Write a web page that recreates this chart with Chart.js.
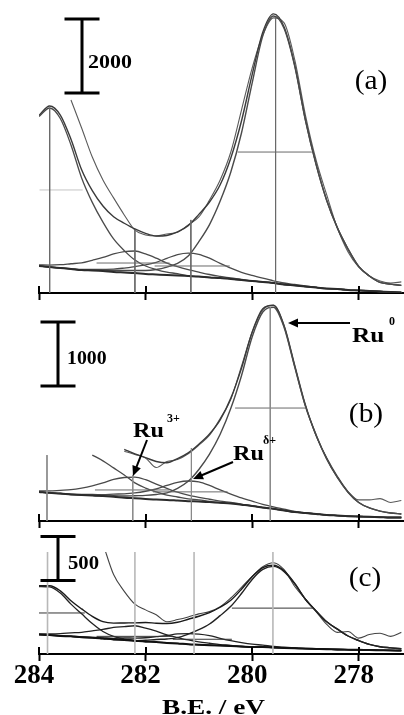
<!DOCTYPE html>
<html><head><meta charset="utf-8">
<script src="https://cdn.jsdelivr.net/npm/chart.js@4/dist/chart.umd.min.js"></script>
<style>
html,body{margin:0;padding:0;background:#fff;}
body{width:404px;height:715px;position:relative;overflow:hidden;}
canvas{position:absolute;left:0;}
</style></head><body>
<canvas id="ca" width="404" height="300" style="top:0px"></canvas>
<canvas id="cb" width="404" height="228" style="top:300px"></canvas>
<canvas id="cc" width="404" height="187" style="top:528px"></canvas>
<script>
// ---- shared axis values ----
const E = [284.0,283.8,283.6,283.4,283.2,283.0,282.8,282.6,282.4,282.2,282.0,281.8,281.6,281.4,281.2,281.0,280.8,280.6,280.4,280.2,280.0,279.8,279.6,279.4,279.2,279.0,278.8,278.6,278.4,278.2,278.0,277.8,277.6,277.4,277.2];
const X_TICKS = [284,282,280,278];
const SCALE_BARS = [2000,1000,500];
const PANEL_LABELS = ['(a)','(b)','(c)'];

// ---- panel (a) ----
const bgA   = [730,700,675,650,620,610,595,570,555,540,515,500,485,475,460,445,420,405,380,350,325,300,270,230,205,175,150,120,110,80,70,55,40,25,15];
const ru3dA = [4770,5000,4715,4000,3110,2450,1915,1460,1145,890,730,635,565,520,460,445,420,405,380,350,325,300,270,230,205,175,150,120,110,80,70,55,40,25,15];
const ru3pA = [760,755,765,790,815,885,960,1055,1120,1135,1055,940,810,715,635,565,500,450,405,370,325,300,270,230,205,175,150,120,110,80,70,55,40,25,15];
const rudA  = [730,700,680,660,635,635,640,645,675,715,760,830,935,1040,1080,1045,940,800,670,560,475,400,330,270,230,190,150,120,110,80,70,55,40,25,15];
const ru0A  = [730,700,675,650,625,625,620,610,610,610,610,635,700,800,1000,1390,1850,2485,3270,4325,5675,6950,7485,7150,6125,4665,3475,2500,1760,1190,720,460,285,240,205];
const envA  = [4800,5055,4810,4155,3330,2765,2350,2060,1885,1730,1610,1540,1555,1650,1820,2125,2460,2925,3650,4650,5900,7050,7545,7190,6150,4680,3475,2500,1760,1190,720,460,285,240,205];
const dataA = [null,null,null,5215,4460,3675,3055,2570,2110,1700,1570,1540,1595,1640,1840,2055,2515,3055,3810,4945,6080,6975,7435,7300,6300,4810,3595,2650,1755,1110,700,460,325,270,300];
const dropPosA = [283.8,282.2,281.15,279.56];
const dropTopA = [5000,1700,1975,7460];
const fwhmLoA = [283.99,282.92,281.83,280.27];
const fwhmHiA = [283.18,281.55,280.42,278.88];
const fwhmYA  = [2785,810,730,3810];

// ---- panel (b) ----
const bgB   = [455,440,430,415,405,400,390,380,365,355,345,335,330,320,310,305,295,285,275,255,235,210,190,165,140,125,110,95,85,75,70,65,60,55,55];
const ru3dB = [null,null,null,null,null,1030,940,830,720,595,515,455,405,375,345,330,305,285,275,255,235,210,190,165,140,125,110,95,85,75,70,65,60,55,55];
const ru3pB = [470,470,480,490,515,550,595,650,680,685,645,575,510,450,405,370,340,310,290,265,235,210,190,165,140,125,110,95,85,75,70,65,60,55,55];
const rudB  = [455,440,430,420,415,415,410,420,425,440,465,500,555,605,625,610,555,485,420,360,310,260,220,185,150,130,110,95,85,75,70,65,60,55,55];
const ru0B  = [455,440,430,415,405,400,390,395,390,395,400,415,440,510,620,805,1045,1355,1760,2270,2875,3265,3340,3025,2405,1795,1345,970,680,450,290,205,155,125,110];
const envB  = [null,null,null,null,null,null,null,null,1120,1050,990,930,910,975,1065,1200,1360,1580,1920,2385,2950,3315,3370,3045,2415,1800,1345,970,680,450,290,205,155,125,110];
const dataB = [null,null,null,null,null,null,null,null,1090,1040,985,835,930,960,1050,1185,1340,1600,1900,2420,2950,3300,3370,3060,2440,1820,1330,990,700,460,330,330,350,290,320];
const dropPosB = [283.85,282.24,281.14,279.66];
const dropTopB = [1030,720,1140,3340];
const fwhmLoB = [282.95,281.86,280.32];
const fwhmHiB = [281.55,280.46,278.99];
const fwhmYB  = [485,455,1765];

// ---- panel (c) ----
const bgC   = [220,215,205,200,190,185,175,165,160,150,140,135,125,120,110,105,100,95,90,85,80,78,73,69,65,61,58,55,51,49,47,44,42,40,39];
const ru3dC = [765,760,690,565,455,345,255,200,170,155,145,135,125,120,110,105,100,95,90,85,80,78,73,69,65,61,58,55,51,49,47,44,42,40,39];
const ru3pC = [229,229,231,239,246,262,278,302,310,320,293,258,217,187,159,138,122,107,98,85,80,78,73,69,65,61,58,55,51,49,47,44,42,40,39];
const rudC  = [220,215,205,200,195,189,183,178,182,181,184,196,208,228,230,225,208,178,151,129,111,100,86,77,69,61,58,55,51,49,47,44,42,40,39];
const ru0C  = [220,215,205,200,190,185,175,165,160,150,155,165,170,185,225,275,340,435,540,685,845,958,993,934,795,621,488,365,281,204,152,109,82,70,59];
const envC  = [774,774,716,604,511,426,366,350,352,353,357,349,345,360,394,428,470,530,609,734,876,980,1006,942,799,621,488,365,281,204,152,109,82,70,59];
const dataC = [null,null,null,null,null,null,1250,900,710,565,500,445,365,390,420,455,480,535,635,755,880,990,1035,955,765,620,480,335,245,255,180,220,235,200,245];
const dropPosC = [283.84,282.2,281.09,279.61];
const dropTopC = [1200,1200,1200,1200];
const fwhmLoC = [284.0,282.92,281.49,280.38];
const fwhmHiC = [283.14,281.49,280.38,278.86];
const fwhmYC  = [465,200,167,520];

// ---- helpers ----
const SERIF = '"Liberation Serif","Times New Roman",serif';
function series(vals){ return E.map((e,i)=>({x:e,y:vals[i]})); }
function curve(vals,color,width,tension){
  return {data:series(vals),borderColor:color,borderWidth:width,pointRadius:0,
          tension:tension,cubicInterpolationMode:tension>0?'monotone':'default',fill:false,spanGaps:false};
}
function segs(list,color,width){
  return list.map(pts=>({data:pts,borderColor:color,borderWidth:width,pointRadius:0,tension:0,fill:false}));
}
function drops(pos,top){ return pos.map((p,i)=>[{x:p,y:top[i]},{x:p,y:0}]); }
function fwhms(lo,hi,y){ return lo.map((l,i)=>[{x:l,y:y[i]},{x:hi[i],y:y[i]}]); }
function txt(ctx,s,x,y,font,sx,align){
  ctx.save(); ctx.font=font; ctx.fillStyle='#000'; ctx.textAlign=align||'left'; ctx.textBaseline='alphabetic';
  ctx.translate(x,y); ctx.scale(sx||1,1); ctx.fillText(s,0,0); ctx.restore();
}
function arrow(ctx,x1,y1,x2,y2){
  const a=Math.atan2(y2-y1,x2-x1), L=10, W=4.5;
  ctx.save(); ctx.strokeStyle='#000'; ctx.fillStyle='#000'; ctx.lineWidth=2;
  ctx.beginPath(); ctx.moveTo(x1,y1); ctx.lineTo(x2-Math.cos(a)*L*0.7,y2-Math.sin(a)*L*0.7); ctx.stroke();
  ctx.beginPath(); ctx.moveTo(x2,y2);
  ctx.lineTo(x2-L*Math.cos(a)+W*Math.sin(a), y2-L*Math.sin(a)-W*Math.cos(a));
  ctx.lineTo(x2-L*Math.cos(a)-W*Math.sin(a), y2-L*Math.sin(a)+W*Math.cos(a));
  ctx.closePath(); ctx.fill(); ctx.restore();
}
function deco(o){
  return {id:'deco',afterDraw(chart){
    const ctx=chart.ctx, xs=chart.scales.x, ys=chart.scales.y, ca=chart.chartArea;
    ctx.save();
    ctx.strokeStyle='#000'; ctx.lineWidth=2;
    xs.ticks.forEach(t=>{const px=Math.round(xs.getPixelForValue(t.value));
      ctx.beginPath(); ctx.moveTo(px,ca.bottom-7); ctx.lineTo(px,ca.bottom); ctx.stroke();});
    const b=o.bar, yb=ys.getPixelForValue(b.base), yt=ys.getPixelForValue(b.base+b.value);
    ctx.lineWidth=3; ctx.lineCap='butt';
    ctx.beginPath(); ctx.moveTo(b.x,yb); ctx.lineTo(b.x,yt);
    ctx.moveTo(b.x-b.cap,yb); ctx.lineTo(b.x+b.cap,yb);
    ctx.moveTo(b.x-b.cap,yt); ctx.lineTo(b.x+b.cap,yt); ctx.stroke();
    txt(ctx,String(b.value),b.tx,b.ty,'bold 18px '+SERIF,b.sx,'left');
    txt(ctx,o.label,o.lx,o.ly,'28px '+SERIF,1.05,'center');
    if(o.extra) o.extra(ctx);
    ctx.restore();
  }};
}
function makeChart(id,cfg){
  const datasets=[]
    .concat(segs(drops(cfg.dropPos,cfg.dropTop),cfg.dropColor,cfg.dropWidth))
    .concat(segs(fwhms(cfg.fLo,cfg.fHi,cfg.fY),cfg.fColor,1))
    .concat([curve(cfg.bg,cfg.bgColor,2,0.3),
             curve(cfg.ru3d,cfg.compColor,1.3,0.4),
             curve(cfg.ru3p,cfg.compColor,1.3,0.4),
             curve(cfg.rud,cfg.compColor,1.3,0.4),
             curve(cfg.ru0,cfg.compColor,1.4,0.4),
             curve(cfg.env,cfg.envColor,1.4,0.4),
             curve(cfg.data,cfg.dataColor,1.1,0.15)]);
  if(cfg.fFirstColor) datasets[cfg.dropPos.length].borderColor=cfg.fFirstColor;
  return new Chart(document.getElementById(id),{
    type:'line',
    data:{datasets},
    options:{
      responsive:false,animation:false,devicePixelRatio:1,
      layout:{padding:{left:39,right:0,top:cfg.padTop,bottom:cfg.padBottom}},
      plugins:{legend:{display:false},tooltip:{enabled:false}},
      scales:{
        x:{type:'linear',reverse:true,min:277.15,max:284,
           afterBuildTicks:(s)=>{s.ticks=X_TICKS.map(v=>({value:v}));},
           grid:{drawOnChartArea:false,drawTicks:true,tickLength:7,tickWidth:2,tickColor:'#000',color:'#000'},
           border:{display:true,color:'#000',width:2},
           ticks:{display:cfg.showTicks,autoSkip:false,maxRotation:0,padding:2,color:'#000',labelOffset:-5,
                  font:{family:SERIF,size:27,weight:'bold',lineHeight:1}}},
        y:{display:false,min:0,max:cfg.ymax}
      }
    },
    plugins:[deco(cfg.deco)]
  });
}

makeChart('ca',{
  bg:bgA,ru3d:ru3dA,ru3p:ru3pA,rud:rudA,ru0:ru0A,env:envA,data:dataA,
  dropPos:dropPosA,dropTop:dropTopA,fLo:fwhmLoA,fHi:fwhmHiA,fY:fwhmYA,
  dropColor:'#6a6a6a',dropWidth:1,fColor:'#6a6a6a',fFirstColor:'#c4c4c4',
  bgColor:'#2b2b2b',compColor:'#4a4a4a',envColor:'#3a3a3a',dataColor:'#5a5a5a',
  ymax:7919,padTop:0,padBottom:0,showTicks:false,
  deco:{bar:{value:SCALE_BARS[0],base:5405,x:82,cap:17.5,tx:88,ty:68,sx:1.22},label:PANEL_LABELS[0],lx:371,ly:89}
});

makeChart('cb',{
  bg:bgB,ru3d:ru3dB,ru3p:ru3pB,rud:rudB,ru0:ru0B,env:envB,data:dataB,
  dropPos:dropPosB,dropTop:dropTopB,fLo:fwhmLoB,fHi:fwhmHiB,fY:fwhmYB,
  dropColor:'#8a8a8a',dropWidth:1,fColor:'#6a6a6a',
  bgColor:'#2b2b2b',compColor:'#4a4a4a',envColor:'#3a3a3a',dataColor:'#5a5a5a',
  ymax:3453,padTop:0,padBottom:0,showTicks:false,
  deco:{bar:{value:SCALE_BARS[1],base:2110,x:58,cap:17.5,tx:67,ty:64,sx:1.1},label:PANEL_LABELS[1],lx:366,ly:122,
    extra:(ctx)=>{
      txt(ctx,'Ru',352,42,'bold 21px '+SERIF,1.2,'left');
      txt(ctx,'0',389,25,'bold 12px '+SERIF,1,'left');
      arrow(ctx,350,23,288,23);
      txt(ctx,'Ru',133,137,'bold 21px '+SERIF,1.15,'left');
      txt(ctx,'3+',167,122,'bold 12px '+SERIF,1,'left');
      arrow(ctx,147,140,133,176);
      txt(ctx,'Ru',233,160,'bold 21px '+SERIF,1.15,'left');
      txt(ctx,'\u03b4+',263,144,'bold 12px '+SERIF,1,'left');
      arrow(ctx,233,162,193,179);
    }}
});

makeChart('cc',{
  bg:bgC,ru3d:ru3dC,ru3p:ru3pC,rud:rudC,ru0:ru0C,env:envC,data:dataC,
  dropPos:dropPosC,dropTop:dropTopC,fLo:fwhmLoC,fHi:fwhmHiC,fY:fwhmYC,
  dropColor:'#b8b8b8',dropWidth:1.6,fColor:'#333',
  bgColor:'#111',compColor:'#222',envColor:'#1a1a1a',dataColor:'#444',
  ymax:1156,padTop:24,padBottom:23,showTicks:true,
  deco:{bar:{value:SCALE_BARS[2],base:833,x:58,cap:17.5,tx:68,ty:41,sx:1.15},label:PANEL_LABELS[2],lx:365,ly:58,
    extra:(ctx)=>{ txt(ctx,'B.E. / eV',213.5,186,'bold 21px '+SERIF,1.3,'center'); }}
});
</script>
</body></html>
